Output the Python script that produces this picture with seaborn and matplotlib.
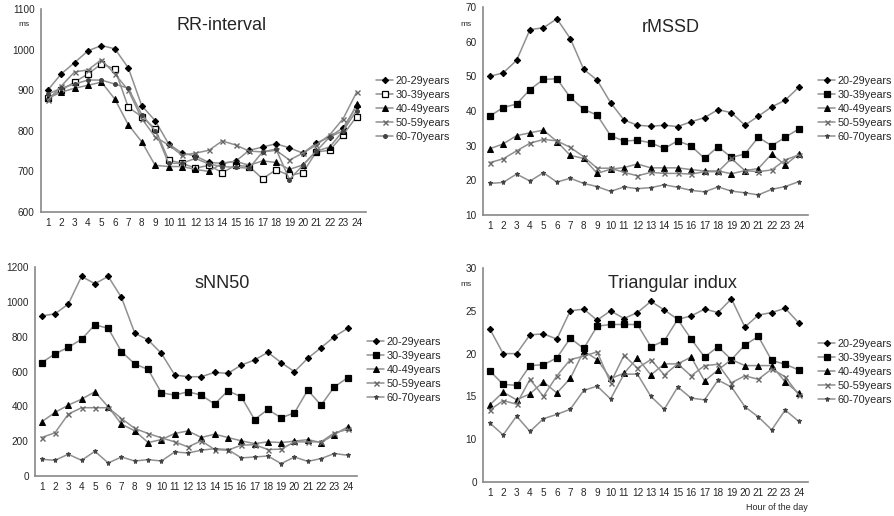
import matplotlib
matplotlib.use("Agg")
import matplotlib.pyplot as plt
from matplotlib.ticker import FixedLocator
import seaborn as sns
import numpy as np

sns.set_style("white")
plt.rcParams['font.family'] = ['Liberation Sans', 'DejaVu Sans']

hours = list(range(1, 25))
groups = ["20-29years", "30-39years", "40-49years", "50-59years", "60-70years"]

# RR-interval (ms)
rr_20 = [900, 940, 968, 997, 1010, 1002, 955, 862, 825, 768, 745, 738, 722, 720, 725, 752, 760, 768, 758, 745, 770, 785, 808, 860]
rr_30 = [880, 900, 920, 940, 965, 952, 858, 835, 805, 728, 720, 708, 715, 697, 715, 712, 682, 704, 690, 697, 748, 752, 790, 835]
rr_40 = [880, 895, 905, 912, 920, 878, 815, 773, 715, 712, 712, 705, 700, 720, 725, 715, 726, 722, 705, 716, 750, 760, 800, 865]
rr_50 = [875, 910, 945, 950, 975, 940, 900, 830, 785, 765, 740, 745, 752, 775, 765, 750, 748, 752, 728, 745, 765, 790, 830, 895]
rr_60 = [890, 905, 915, 925, 925, 915, 905, 840, 800, 720, 720, 732, 718, 712, 710, 708, 748, 755, 680, 715, 750, 785, 800, 850]

# rMSSD (ms)
rm_20 = [50.0, 51.0, 54.6, 63.5, 64.0, 66.6, 60.9, 52.0, 48.9, 42.4, 37.4, 35.9, 35.6, 35.9, 35.5, 36.9, 38.1, 40.4, 39.5, 35.9, 38.5, 41.2, 43.1, 46.8]
rm_30 = [38.5, 41.0, 42.0, 46.2, 49.1, 49.3, 43.9, 40.5, 38.8, 32.9, 31.3, 31.6, 30.8, 29.2, 31.4, 29.9, 26.3, 29.7, 26.6, 27.6, 32.4, 30.0, 32.4, 34.8]
rm_40 = [29.1, 30.5, 32.9, 33.7, 34.5, 31.2, 27.2, 26.3, 22.0, 23.2, 23.7, 24.7, 23.6, 23.6, 23.6, 23.1, 22.7, 22.7, 21.9, 22.8, 23.4, 27.6, 24.4, 27.6]
rm_50 = [25.1, 26.2, 28.5, 30.7, 31.8, 31.4, 29.5, 26.8, 23.5, 23.5, 22.3, 21.3, 22.3, 22.0, 22.0, 21.8, 22.5, 22.5, 26.3, 22.8, 22.5, 23.0, 25.9, 27.3]
rm_60 = [19.1, 19.4, 21.8, 19.8, 22.2, 19.5, 20.6, 19.1, 18.2, 16.8, 18.1, 17.6, 17.9, 18.7, 18.0, 17.1, 16.7, 18.1, 16.9, 16.4, 15.8, 17.4, 18.2, 19.6]

# sNN50
sn_20 = [919, 931, 987, 1146, 1104, 1146, 1025, 820, 781, 704, 580, 570, 570, 595, 589, 637, 666, 710, 651, 599, 676, 737, 800, 848]
sn_30 = [651, 701, 739, 785, 868, 848, 714, 643, 612, 478, 464, 484, 464, 413, 489, 455, 324, 382, 334, 363, 493, 407, 512, 564]
sn_40 = [311, 365, 407, 441, 484, 397, 298, 259, 192, 209, 244, 259, 221, 240, 221, 202, 186, 196, 192, 200, 209, 192, 238, 282]
sn_50 = [221, 248, 355, 392, 392, 392, 330, 273, 244, 219, 196, 167, 202, 152, 148, 177, 180, 152, 154, 196, 196, 196, 248, 267]
sn_60 = [96, 90, 125, 90, 142, 75, 109, 86, 94, 86, 138, 132, 148, 157, 152, 104, 109, 115, 71, 109, 84, 100, 129, 119]

# Triangular index
ti_20 = [22.9, 20.0, 20.0, 22.2, 22.3, 21.7, 25.0, 25.2, 23.9, 25.0, 24.1, 24.8, 26.1, 25.1, 24.0, 24.4, 25.2, 24.8, 26.4, 23.1, 24.5, 24.8, 25.3, 23.6]
ti_30 = [18.0, 16.4, 16.3, 18.6, 18.7, 19.5, 21.8, 20.6, 23.2, 23.4, 23.4, 23.4, 20.8, 21.5, 24.0, 21.7, 19.6, 20.8, 19.3, 21.0, 22.0, 19.2, 18.75, 18.1]
ti_40 = [14.0, 15.5, 14.6, 15.3, 16.7, 15.4, 17.1, 20.3, 19.3, 17.1, 17.7, 19.5, 17.5, 18.8, 18.8, 19.6, 16.8, 18.1, 19.3, 18.6, 18.6, 18.6, 16.7, 15.4]
ti_50 = [13.4, 14.5, 14.1, 17.0, 15.0, 17.4, 19.3, 19.7, 20.2, 16.6, 19.8, 18.3, 19.3, 17.5, 18.8, 17.4, 18.6, 18.75, 16.6, 17.4, 17.0, 18.2, 17.3, 15.2]
ti_60 = [11.9, 10.5, 12.7, 10.9, 12.4, 12.9, 13.5, 15.7, 16.2, 14.7, 17.6, 17.6, 15.0, 13.5, 16.1, 14.8, 14.6, 16.9, 16.1, 13.8, 12.6, 11.1, 13.4, 12.1]

rr_ticks = [600, 700, 800, 900, 1000, 1100]
rm_ticks = [10, 20, 30, 40, 50, 60, 70]
sn_ticks = [0, 200, 400, 600, 800, 1000, 1200]
ti_ticks = [5, 10, 15, 20, 25, 30]
ti_labels = ["0", "10", "15", "20", "25", "30"]

LINE = "#909090"
W, H = 894, 516
fig = plt.figure(figsize=(W / 100, H / 100), dpi=100)


def add_ax(x0, y0, x1, y1):
    return fig.add_axes([x0 / W, 1 - y1 / H, (x1 - x0) / W, (y1 - y0) / H])


def style_markers(open_square):
    sq_face = "white" if open_square else "black"
    return [
        dict(marker="D", ms=3.2, mfc="black", mec="black"),
        dict(marker="s", ms=4.0 if open_square else 3.8, mfc=sq_face, mec="black", mew=0.9),
        dict(marker="^", ms=4.2, mfc="black", mec="black"),
        dict(marker="x", ms=3.6, mfc="#666666", mec="#666666", mew=1.0),
        dict(marker="*" if not open_square else "o", ms=2.8 if open_square else 3.6,
             mfc="#444444", mec="#444444"),
    ]


def panel(ax, series, ticks, ylim, title, title_xy, legend_xy, open_square=False,
          ms_xy=None, labels=None):
    for vals, name, st in zip(series, groups, style_markers(open_square)):
        sns.lineplot(x=hours, y=vals, ax=ax, color=LINE, lw=1.1, label=name, **st)
    ax.set_xlim(0.5, 24.7)
    ax.set_ylim(*ylim)
    ax.set_xticks(hours)
    ax.set_xticklabels([str(h) for h in hours], fontsize=7.2)
    ax.xaxis.set_minor_locator(FixedLocator(np.arange(0.5, 25, 1.0)))
    ax.tick_params(axis="x", which="major", length=0, pad=4)
    ax.tick_params(axis="x", which="minor", length=2.5, direction="in", color="#777777")
    ax.set_yticks(ticks)
    ax.set_yticklabels(labels if labels else [str(t) for t in ticks], fontsize=7.2)
    ax.tick_params(axis="y", length=2.5, direction="out", color="#777777", pad=2)
    for s in ["top", "right"]:
        ax.spines[s].set_visible(False)
    for s in ["left", "bottom"]:
        ax.spines[s].set_color("#888888")
        ax.spines[s].set_linewidth(1.2)
    ax.set_xlabel("")
    ax.set_ylabel("")
    ax.text(title_xy[0] / W, 1 - title_xy[1] / H, title, transform=fig.transFigure,
            ha="center", va="center", fontsize=13)
    if ms_xy:
        ax.text(ms_xy[0] / W, 1 - ms_xy[1] / H, "ms", transform=fig.transFigure,
                ha="center", va="center", fontsize=6)
    ax.legend(loc="upper left", bbox_to_anchor=(legend_xy[0] / W, 1 - legend_xy[1] / H),
              bbox_transform=fig.transFigure, frameon=False, fontsize=7.8,
              handlelength=1.6, handletextpad=0.2, labelspacing=0.36, borderpad=0,
              borderaxespad=0)


ax1 = add_ax(41, 9, 366, 212)
panel(ax1, [rr_20, rr_30, rr_40, rr_50, rr_60], rr_ticks, (600, 1100), "RR-interval",
      (222, 25), (376, 76), open_square=True, ms_xy=(24, 25))

ax2 = add_ax(483, 7, 808, 215)
panel(ax2, [rm_20, rm_30, rm_40, rm_50, rm_60], rm_ticks, (10, 70), "rMSSD",
      (671, 27), (818, 76), ms_xy=(466, 25))

ax3 = add_ax(35, 267, 357, 476)
panel(ax3, [sn_20, sn_30, sn_40, sn_50, sn_60], sn_ticks, (0, 1200), "sNN50",
      (222, 283), (367, 337))

ax4 = add_ax(483, 268, 808, 482)
panel(ax4, [ti_20, ti_30, ti_40, ti_50, ti_60], ti_ticks, (5, 30), "Triangular indux",
      (672, 283), (818, 339), ms_xy=(466, 285), labels=ti_labels)

fig.text(777 / W, 1 - 508 / H, "Hour of the day", ha="center", va="center", fontsize=6.5)

fig.savefig("out.png", dpi=100)
